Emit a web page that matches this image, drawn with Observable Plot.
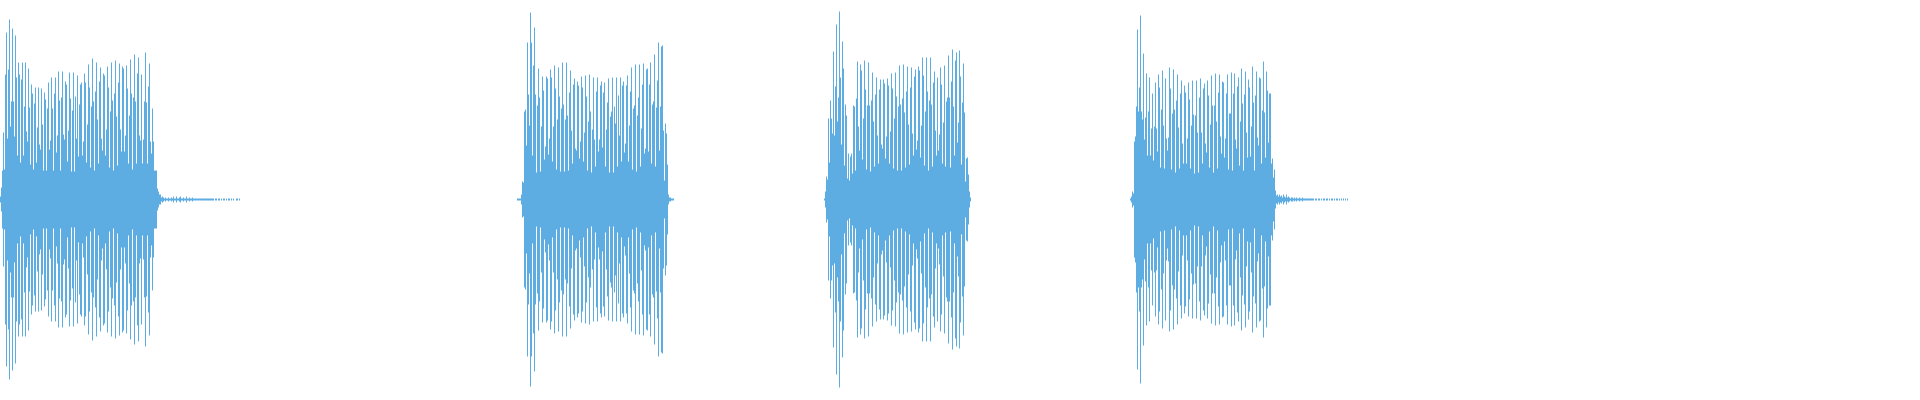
<!DOCTYPE html>
<html>
<head>
<meta charset="utf-8">
<style>html,body{margin:0;padding:0;background:#fff}svg{display:block}</style>
<script src="https://cdn.jsdelivr.net/npm/d3@7"></script>
<script src="https://cdn.jsdelivr.net/npm/@observablehq/plot@0.6"></script>
</head>
<body>
<div id="chart"></div>
<script>
const waveColor = "#5DADE2";
const starts = [0, 517, 824, 1130];
const burst1 = [
3,12,29,67,30,125,167,61,130,180,
73,98,171,98,63,164,122,44,137,125,
37,120,137,44,93,137,68,58,131,92,
35,115,106,30,96,112,37,72,112,55,
50,111,75,29,107,100,29,91,117,50,
59,122,91,29,106,122,47,64,128,99,
29,102,128,65,60,118,115,38,69,127,
101,28,89,127,28,103,61,124,43,95,
115,117,44,58,126,117,37,75,135,112,
32,93,141,98,29,108,137,80,36,118,
132,61,49,126,124,44,70,133,112,32,
88,137,99,29,106,139,83,34,117,136,
70,48,133,131,48,64,134,111,36,84,
140,106,30,102,145,98,36,126,142,64,
59,125,36,60,98,147,97,36,113,136,
58,46,91,58,29,29,29,11,8,5,
5,2,3,2,1,2,1,1,2,1,
1,2,1,3,1,1,3,1,1,2,
3,1,1,2,1,1,3,1,1,2,
1,1,2,1,1,1,1,1,1,1,
1,1,1,1,1,1,1,1,1,1,
1,1,1,1,0,1,1,0,1,1,
0,1,0,1,1,0,1,0,1,1,
0,1,0,1,0,0,1,1,0,1,0
];
const burst2 = [
1,1,1,1,5,18,17,88,90,54,
157,105,74,187,157,44,134,172,105,27,
94,131,102,28,73,123,109,40,53,123,
121,45,61,130,122,38,73,134,111,30,
80,132,103,28,91,137,95,28,80,137,
84,29,107,129,69,36,115,121,51,49,
118,114,41,58,123,112,38,67,124,103,
29,78,125,88,27,70,122,60,33,108,
122,48,60,114,118,52,107,117,33,70,
97,121,27,83,88,122,27,93,76,122,
33,104,64,122,38,114,118,47,56,114,
124,38,74,108,132,30,91,94,135,28,
84,102,135,33,71,115,136,46,51,130,
131,48,115,137,36,95,98,145,33,92,
119,157,49,93,153,154,69,19,76,66,
35,5,2,2,1,1,1
];
const burst3 = [
1,8,23,20,81,37,99,81,66,148,
64,113,175,78,102,188,122,55,158,131,
34,95,84,21,46,19,43,46,26,94,
93,29,101,138,73,49,135,129,40,81,
139,110,30,94,137,94,28,99,127,78,
33,105,122,64,36,110,120,55,51,120,
116,41,63,121,114,36,68,126,111,31,
81,127,103,29,93,134,95,29,101,135,
87,32,108,133,75,35,112,132,66,44,
123,130,50,59,133,129,42,74,142,124,
34,88,142,108,29,99,142,95,33,117,
128,69,44,122,49,65,132,115,36,77,
134,33,98,102,144,102,32,118,150,93,
44,139,147,57,77,149,123,35,97,136,
87,18,41,42,25,8,2
];
const burst4 = [
1,3,8,6,58,63,93,170,88,112,
184,88,80,146,60,82,126,44,88,122,
44,71,106,39,73,117,71,48,125,112,
32,90,129,74,31,121,61,49,62,132,
111,30,86,130,90,27,99,125,72,31,
106,119,56,36,114,107,36,61,117,100,
31,74,119,85,26,84,119,67,27,102,
121,67,36,111,116,56,47,119,104,32,
75,124,94,27,94,126,78,31,107,125,
63,46,118,117,42,61,106,125,30,86,
86,127,29,106,126,60,51,113,122,34,
78,131,96,29,105,128,67,42,120,112,
43,73,133,97,29,104,128,62,54,122,
121,36,89,138,87,42,128,109,57,106,
106,36,41,22,30,9,4,5,3,5,
3,4,2,5,3,2,5,2,3,2,
1,2,2,1,2,1,2,1,1,2,
1,1,2,1,1,1,1,1,1,1,
1,1,1,1,0,1,1,0,1,1,
0,1,0,1,1,0,1,1,0,1,
0,1,1,0,1,0,1,1,0,1,
0,1,0,1,0,1,0,1
];
const bursts = [burst1, burst2, burst3, burst4];
const samples = bursts.flatMap((b, k) => Array.from(b, (a, i) => ({t: starts[k] + i, a}))).filter(d => d.a > 0);

const chart = Plot.plot({
  width: 1920,
  height: 400,
  margin: 0,
  x: {domain: [0, 1920], range: [0, 1920], axis: null},
  y: {domain: [-200.5, 199.5], range: [400, 0], axis: null},
  marks: [
    Plot.ruleX(samples, {x: "t", y1: d => -d.a, y2: d => d.a, stroke: waveColor, strokeWidth: 1})
  ]
});
document.getElementById("chart").append(chart);
</script>
</body>
</html>
